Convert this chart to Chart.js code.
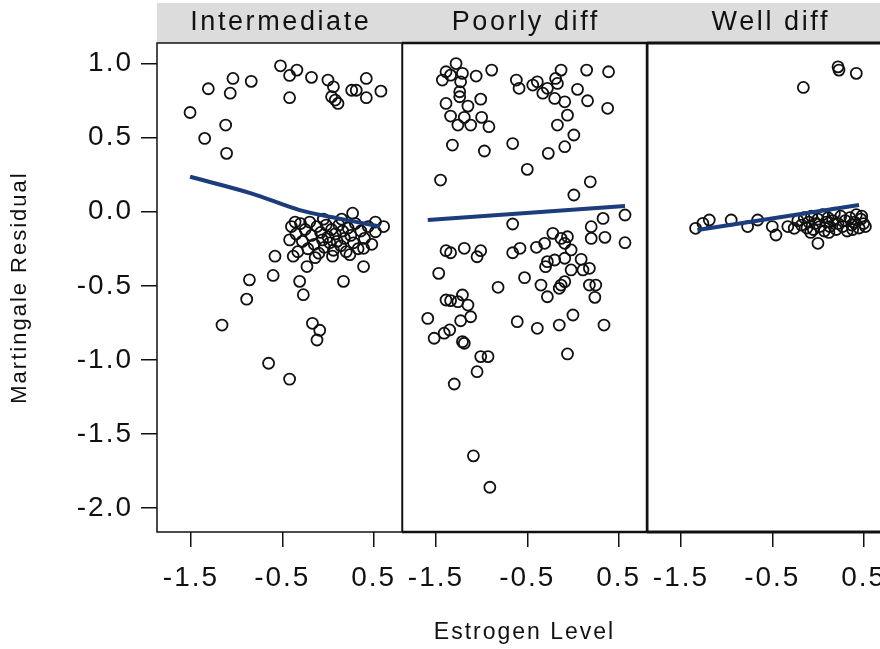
<!DOCTYPE html>
<html>
<head>
<meta charset="utf-8">
<title>Martingale Residual vs Estrogen Level</title>
<script src="https://cdn.jsdelivr.net/npm/chart.js@4.4.1/dist/chart.umd.min.js"></script>
<style>
  html, body { margin: 0; padding: 0; background: #fff; overflow: hidden; }
  #wrap { position: relative; width: 880px; height: 649px; overflow: hidden; }
  #wrap canvas { position: absolute; top: 0; }
</style>
</head>
<body>
<div id="wrap">
  <canvas id="c1" width="402" height="649" style="left:0"></canvas>
  <canvas id="c2" width="245" height="649" style="left:402px"></canvas>
  <canvas id="c3" width="245" height="649" style="left:647px"></canvas>
</div>
<script>
// panel names and axis ticks
const categories = ['Intermediate', 'Poorly diff', 'Well diff'];
const xTicks = [-1.5, -0.5, 0.5];
const yTicks = [1.0, 0.5, 0.0, -0.5, -1.0, -1.5, -2.0];

// Intermediate
const interX = [-1.51, -1.31, -1.04, -1.07, -0.84, -0.52, -0.42, -0.34, -0.18, -0.42, 0.00, 0.06, 0.04, 0.08, 0.11,
  0.26, 0.31, 0.42, 0.42, 0.58, -1.12, -1.35, -1.11,
  0.27, -0.36, -0.58, -0.60, -0.86, -0.89, -0.31, -0.27, -0.23, 0.17, 0.39, -1.16, -0.17, -0.09, -0.12, -0.65, -0.42,
  -0.42, -0.38, 0.39, 0.61, 0.52,
  -0.40, -0.35, -0.30, -0.28, -0.25, -0.22, -0.20, -0.18, -0.15, -0.12, -0.10, -0.08, -0.06, -0.04, -0.02, 0.00,
  0.02, 0.04, 0.06, 0.08, 0.10, 0.12, 0.14, 0.16, 0.18, 0.20, 0.22, 0.25, 0.28, 0.30, 0.33, 0.36, 0.40, 0.44,
  0.48, 0.52, -0.33, -0.05, 0.15, 0.05, -0.14, 0.24];
const interY = [0.67, 0.83, 0.90, 0.80, 0.88, 0.985, 0.92, 0.956, 0.907, 0.77, 0.889, 0.843, 0.776, 0.754, 0.731,
  0.82, 0.82, 0.90, 0.77, 0.814, 0.585, 0.495, 0.394,
  -0.01, -0.07, -0.30, -0.43, -0.46, -0.59, -0.47, -0.56, -0.37, -0.47, -0.37, -0.765, -0.753, -0.80, -0.866, -1.023, -1.13,
  -0.19, -0.30, -0.247, -0.10, -0.135,
  -0.10, -0.15, -0.08, -0.20, -0.12, -0.25, -0.07, -0.16, -0.22, -0.10, -0.28, -0.14, -0.19, -0.24, -0.09, -0.17,
  -0.21, -0.12, -0.26, -0.15, -0.20, -0.09, -0.23, -0.13, -0.18, -0.27, -0.11, -0.16, -0.21, -0.08, -0.25, -0.13, -0.18, -0.10,
  -0.22, -0.07, -0.27, -0.05, -0.05, -0.30, -0.31, -0.29];
const interFitX = [-1.51, -0.85, -0.31, 0.10, 0.57];
const interFitY = [0.236, 0.126, 0.011, -0.043, -0.10];

// Poorly diff
const poorX = [-1.28, -1.39, -1.43, -1.34, -1.21, -1.23, -1.06, -0.89, -1.24, -1.24, -1.39, -1.15, -1.01, -1.34, -1.19,
  -1.26, -1.12, -1.00, -0.92, -1.32, -0.97, -0.66, -0.62, -0.59, -0.44, -0.39, -0.33, -0.28, -0.19, -0.13, -0.17,
  -0.20, -0.09, 0.05, 0.15, 0.16, 0.39, 0.38, -0.06, -0.17, 0.01, -0.09, -0.27, -0.50, -1.45, 0.19, 0.01,
  -0.66, 0.33, 0.57, 0.20, 0.20, 0.35, 0.57, -1.39, -1.34, -1.19, -1.01, -1.05, -1.47, -0.82, -0.66, -0.58, -0.40,
  -0.31, -0.22, -0.13, -0.06, -0.09, -0.02, -0.28, -0.20, -0.30, -0.09, 0.09, -0.02, 0.11, 0.18, -0.53, -0.35,
  -0.13, -0.15, -0.09, -0.28, 0.18, 0.25, 0.24, -1.39, -1.34, -1.26, -1.21, -1.15, -1.59, -1.12, -1.23, -1.52,
  -1.41, -1.35, -1.21, -1.19, -0.61, -0.39, -0.15, 0.00, 0.34, -0.06, -1.01, -0.93, -1.05, -1.30, -1.09, -0.91];
const poorY = [1.00, 0.945, 0.889, 0.922, 0.934, 0.877, 0.916, 0.956, 0.81, 0.776, 0.731, 0.713, 0.76, 0.646, 0.637,
  0.585, 0.585, 0.637, 0.574, 0.45, 0.41, 0.46, 0.889, 0.833, 0.855, 0.877, 0.80, 0.833, 0.90, 0.956, 0.866,
  0.765, 0.742, 0.826, 0.956, 0.749, 0.945, 0.698, 0.652, 0.585, 0.518, 0.439, 0.394, 0.286, 0.214, 0.202, 0.113,
  -0.083, -0.045, -0.022, -0.101, -0.18, -0.173, -0.209, -0.263, -0.277, -0.247, -0.263, -0.304, -0.416, -0.51, -0.277, -0.247, -0.24,
  -0.213, -0.146, -0.18, -0.169, -0.213, -0.258, -0.337, -0.326, -0.371, -0.314, -0.321, -0.393, -0.393, -0.382, -0.445, -0.495,
  -0.495, -0.517, -0.472, -0.574, -0.495, -0.495, -0.578, -0.596, -0.60, -0.607, -0.562, -0.63, -0.72, -0.709, -0.736, -0.854,
  -0.82, -0.798, -0.877, -0.888, -0.742, -0.787, -0.765, -0.697, -0.765, -0.96, -0.978, -0.978, -1.08, -1.163, -1.648, -1.86];
const poorFitX = [-1.59, 0.57];
const poorFitY = [-0.056, 0.038];

// Well diff
const wellX = [0.22, 0.23, 0.42, -0.16, -1.34, -1.26, -1.19, -0.95, -0.77, -0.66, -0.50, -0.46, -0.33, -0.26, 0.00,
  -0.22, -0.18, -0.15, -0.12, -0.10, -0.07, -0.05, -0.03, 0.00, 0.02, 0.05, 0.07, 0.09, 0.11, 0.13, 0.16, 0.18,
  0.20, 0.22, 0.25, 0.27, 0.30, 0.32, 0.35, 0.37, 0.40, 0.42, 0.45, 0.47, 0.50, 0.52, 0.48, -0.08, 0.12, 0.38];
const wellY = [0.978, 0.956, 0.934, 0.839, -0.112, -0.078, -0.056, -0.056, -0.10, -0.056, -0.10, -0.157, -0.10, -0.112, -0.213,
  -0.06, -0.09, -0.04, -0.11, -0.07, -0.03, -0.12, -0.08, -0.05, -0.10, -0.02, -0.13, -0.07, -0.04, -0.10, -0.06, -0.01,
  -0.12, -0.08, -0.03, -0.10, -0.06, -0.13, -0.04, -0.09, -0.07, -0.02, -0.11, -0.05, -0.08, -0.10, -0.03, -0.14, -0.14, -0.12];
const wellFitX = [-1.32, 0.45];
const wellFitY = [-0.123, 0.045];

const FONT = '"Liberation Sans", Arial, Helvetica, sans-serif';
const INK = '#111111';

function pts(xs, ys) {
    return xs.map((x, i) => ({ x: x, y: ys[i] }));
}

// wider text spacing, like the original rendering
const spacing = {
    id: 'spacing',
    beforeUpdate(chart) { chart.ctx.letterSpacing = '2px'; },
    beforeDraw(chart) { chart.ctx.letterSpacing = '2px'; }
};

// grey strip with panel name + frame around the panel
const strip = {
    id: 'strip',
    afterDraw(chart, args, opts) {
        const ctx = chart.ctx;
        const a = chart.chartArea;
        ctx.save();
        ctx.fillStyle = '#dcdcdc';
        ctx.fillRect(a.left, 3, a.right - a.left, a.top - 3);
        ctx.fillStyle = INK;
        ctx.font = '27px ' + FONT;
        ctx.letterSpacing = '2.6px';
        ctx.textAlign = 'center';
        ctx.textBaseline = 'middle';
        ctx.fillText(opts.text, (a.left + a.right) / 2 + 1.3, 23);
        ctx.lineWidth = opts.frame;
        ctx.strokeStyle = INK;
        ctx.strokeRect(a.left, a.top, a.right - a.left, a.bottom - a.top);
        ctx.restore();
    }
};

function makePanel(id, idx, xs, ys, fx, fy, first, frame) {
    const ctx = document.getElementById(id).getContext('2d');
    return new Chart(ctx, {
        type: 'scatter',
        data: {
            datasets: [{
                type: 'line',
                data: pts(fx, fy),
                borderColor: '#1c3c7c',
                borderWidth: 4,
                pointRadius: 0,
                tension: 0.35,
                fill: false
            }, {
                data: pts(xs, ys),
                pointStyle: 'circle',
                pointRadius: 5.5,
                pointBorderWidth: 1.8,
                borderColor: INK,
                backgroundColor: 'rgba(0,0,0,0)'
            }]
        },
        options: {
            responsive: false,
            animation: false,
            layout: { autoPadding: false, padding: { top: 43, bottom: 0, left: 0, right: 0 } },
            plugins: {
                legend: { display: false },
                tooltip: { enabled: false },
                strip: { text: categories[idx], frame: frame }
            },
            scales: {
                x: {
                    type: 'linear',
                    min: -1.872,
                    max: 0.811,
                    afterBuildTicks: s => { s.ticks = xTicks.map(v => ({ value: v })); },
                    afterFit: s => {
                        s.height = 117;
                        // panels sit edge to edge
                        s.paddingLeft = 0;
                        s.paddingRight = 0;
                    },
                    border: { display: false },
                    grid: { drawOnChartArea: false, drawTicks: true, tickLength: 15, lineWidth: 1.5, color: INK },
                    ticks: {
                        color: INK,
                        font: { family: FONT, size: 28 },
                        padding: 14,
                        maxRotation: 0,
                        autoSkip: false,
                        callback: v => v.toFixed(1)
                    },
                    title: {
                        display: idx === 1,
                        text: 'Estrogen Level',
                        color: INK,
                        font: { family: FONT, size: 23 },
                        padding: { top: 0, bottom: 3 }
                    }
                },
                y: {
                    type: 'linear',
                    display: first,
                    min: -2.162,
                    max: 1.139,
                    afterBuildTicks: s => { s.ticks = yTicks.map(v => ({ value: v })); },
                    afterFit: s => { s.width = first ? 157 : 0; },
                    border: { display: false },
                    grid: { drawOnChartArea: false, drawTicks: true, tickLength: 16, lineWidth: 1.5, color: INK },
                    ticks: {
                        color: INK,
                        font: { family: FONT, size: 28 },
                        padding: 8,
                        callback: v => v.toFixed(1)
                    },
                    title: {
                        display: true,
                        text: 'Martingale Residual',
                        color: INK,
                        font: { family: FONT, size: 22 },
                        padding: { top: 7, bottom: 0 }
                    }
                }
            }
        },
        plugins: [spacing, strip]
    });
}

makePanel('c1', 0, interX, interY, interFitX, interFitY, true, 1.5);
makePanel('c2', 1, poorX, poorY, poorFitX, poorFitY, false, 2.5);
makePanel('c3', 2, wellX, wellY, wellFitX, wellFitY, false, 3);
</script>
</body>
</html>
